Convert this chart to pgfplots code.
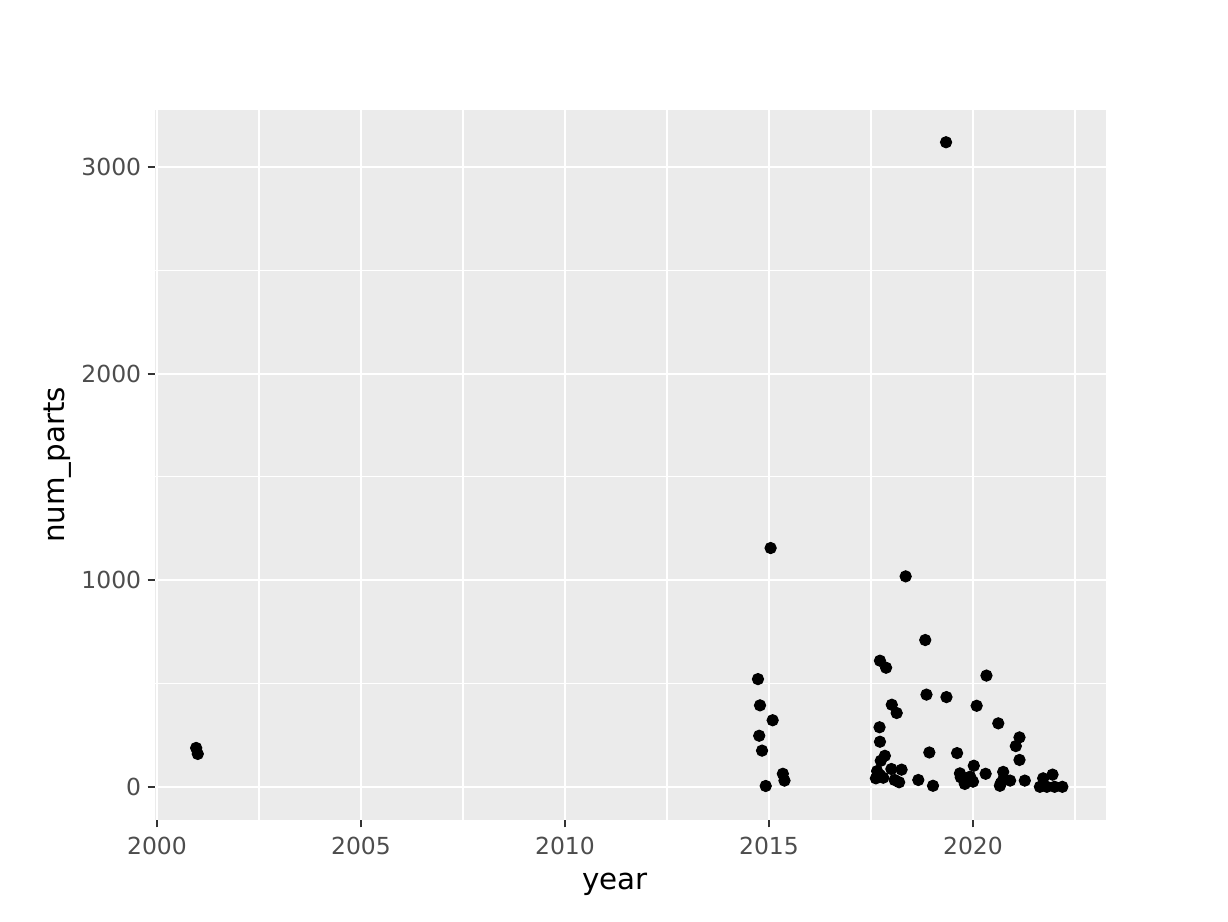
\documentclass[border=0pt]{standalone}
\usepackage{pgfplots}
\pgfplotsset{compat=1.18}
\usepackage{fontspec}
\setmainfont{DejaVu Sans}
\definecolor{panelbg}{HTML}{EBEBEB}
\definecolor{ticklab}{HTML}{4D4D4D}
\definecolor{tickcol}{HTML}{333333}
\begin{document}
\begin{tikzpicture}
\path[use as bounding box] (-58.1pt,-37.9pt) rectangle (402.35pt,307.5pt);
\begin{axis}[
  scale only axis,
  width=356.6pt, height=266.25pt,
  xmin=1999.95, xmax=2023.26,
  ymin=-160, ymax=3275,
  axis background/.style={fill=panelbg},
  axis line style={draw=none},
  xtick={2000,2005,2010,2015,2020},
  minor xtick={2002.5,2007.5,2012.5,2017.5,2022.5},
  ytick={0,1000,2000,3000},
  minor ytick={500,1500,2500},
  grid=both,
  major grid style={white, line width=0.8pt},
  minor grid style={white, line width=0.4pt},
  tick align=outside,
  major tick length=2.75pt,
  minor tick length=0pt,
  tick style={tickcol, line width=0.75pt},
  xtick pos=bottom, ytick pos=left,
  /pgf/number format/assume math mode=true,
  /pgf/number format/set thousands separator={},
  tick label style={font=\fontsize{8.8}{10}\selectfont, text=ticklab},
  yticklabel style={xshift=1.1pt},
  label style={font=\fontsize{11}{13}\selectfont},
  xlabel={year}, ylabel={num\_parts},
  x label style={at={(axis description cs:0.4837,-0.0901)}, anchor=center},
  y label style={at={(axis description cs:-0.1020,0.5)}, anchor=center, rotate=0},
  clip=false,
]
\addplot[only marks, mark=*, mark size=2.1pt, black] coordinates {
(2000.96,189) (2001.00,160)
(2015.04,1156) (2014.73,522) (2014.78,395) (2015.09,323) (2014.76,248)
(2014.83,176) (2015.34,64) (2015.38,31) (2014.92,5)
(2018.35,1019) (2018.83,711) (2017.72,611) (2017.87,577) (2018.86,447)
(2019.35,435) (2020.09,393) (2018.01,398) (2018.13,358) (2017.71,289)
(2017.72,219) (2018.93,167) (2019.61,164) (2017.84,151) (2017.74,127)
(2018.00,87) (2018.25,84) (2017.65,77) (2017.72,58) (2017.62,42)
(2017.80,45) (2018.08,34) (2018.19,23) (2018.66,34) (2019.02,6)
(2019.68,66) (2020.02,103) (2019.83,26) (2020.00,26) (2019.76,42)
(2020.33,539) (2020.62,308) (2021.14,240) (2021.05,198) (2021.14,131)
(2020.31,64) (2020.74,73) (2019.70,47) (2019.93,50) (2019.80,15)
(2020.68,18) (2020.91,31) (2021.27,31) (2020.74,36) (2021.95,60)
(2021.72,42) (2021.64,1) (2021.81,1) (2022.00,1) (2022.19,1) (2020.66,6)
(2019.34,3119)
};
\end{axis}
\end{tikzpicture}
\end{document}
